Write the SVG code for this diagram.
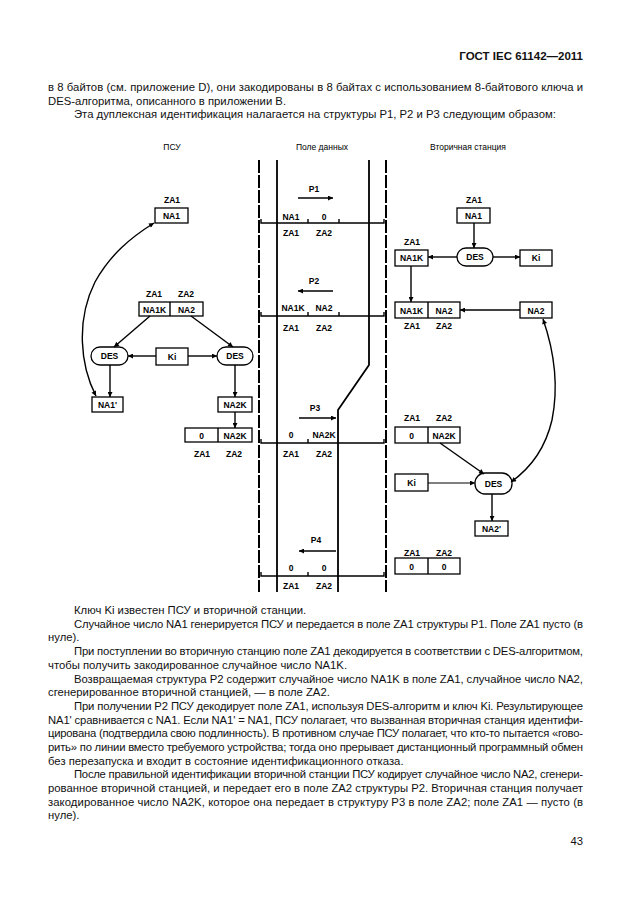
<svg xmlns="http://www.w3.org/2000/svg" width="630" height="913" viewBox="0 0 630 913">
<style>
.body{font-family:"Liberation Sans",Arial,sans-serif;font-size:11.3px;fill:#111}
.hdr{font-family:"Liberation Sans",Arial,sans-serif;font-size:11.5px;font-weight:bold;fill:#111}
.lbl{font-family:"Liberation Sans",Arial,sans-serif;font-size:8.5px;font-weight:bold;fill:#000;text-anchor:middle}
.col{font-family:"Liberation Sans",Arial,sans-serif;font-size:8.5px;fill:#000;text-anchor:middle}
.box{fill:#fff;stroke:#000;stroke-width:1.3}
.ln{fill:none;stroke:#000;stroke-width:1.4}
.thin{fill:none;stroke:#000;stroke-width:1}
.main{fill:none;stroke:#000;stroke-width:1.8}
.dash{fill:none;stroke:#000;stroke-width:2;stroke-dasharray:13 2}
</style>
<defs>
<marker id="ah" viewBox="0 0 10 10" refX="10" refY="5" markerWidth="7" markerHeight="5" markerUnits="userSpaceOnUse" orient="auto-start-reverse">
<path d="M0,0 L10,5 L0,10 z" fill="#000"/>
</marker>
</defs>
<rect x="0" y="0" width="630" height="913" fill="#fff"/>

<g id="page-header">
<text class="hdr" x="583" y="60" text-anchor="end">ГОСТ IEC 61142—2011</text>
<text class="body" x="48" y="91" textLength="535">в 8 байтов (см. приложение D), они закодированы в 8 байтах с использованием 8-байтового ключа и</text>
<text class="body" x="48" y="105">DES-алгоритма, описанного в приложении В.</text>
<text class="body" x="74" y="118">Эта дуплексная идентификация налагается на структуры P1, P2 и P3 следующим образом:</text>
</g>

<g id="column-titles">
<text class="col" x="172" y="150">ПСУ</text>
<text class="col" x="322" y="150">Поле данных</text>
<text class="col" x="468" y="150">Вторичная станция</text>
</g>

<g id="data-field-lines">
<line class="dash" x1="259" y1="160" x2="259" y2="592"/>
<line class="dash" x1="386" y1="160" x2="386" y2="592"/>
<line class="main" x1="277" y1="160" x2="277" y2="592"/>
<path class="main" d="M369,160 V365 L338,410 V592"/>
</g>

<g id="P1">
<text class="lbl" x="314" y="192">P1</text>
<text class="lbl" x="291" y="220">NA1</text>
<text class="lbl" x="324" y="220">0</text>
<path class="ln" d="M261,219 V223 H384 V219 M308,223 V219 M339,223 V219"/>
<text class="lbl" x="291" y="236">ZA1</text>
<text class="lbl" x="324" y="236">ZA2</text>
</g>
<g id="P2">
<text class="lbl" x="314" y="284">P2</text>
<text class="lbl" x="293" y="311">NA1K</text>
<text class="lbl" x="324" y="311">NA2</text>
<path class="ln" d="M261,312 V316 H384 V312 M308,316 V312 M339,316 V312"/>
<text class="lbl" x="291" y="331">ZA1</text>
<text class="lbl" x="324" y="331">ZA2</text>
</g>
<g id="P3">
<text class="lbl" x="315" y="411">P3</text>
<text class="lbl" x="291" y="438">0</text>
<text class="lbl" x="324" y="438">NA2K</text>
<path class="ln" d="M261,439 V443 H384 V439 M308,443 V439"/>
<text class="lbl" x="291" y="457">ZA1</text>
<text class="lbl" x="324" y="457">ZA2</text>
</g>
<g id="P4">
<text class="lbl" x="316" y="543">P4</text>
<text class="lbl" x="291" y="571">0</text>
<text class="lbl" x="324" y="571">0</text>
<path class="ln" d="M261,572 V576 H384 V572 M308,576 V572"/>
<text class="lbl" x="291" y="589">ZA1</text>
<text class="lbl" x="324" y="589">ZA2</text>
</g>

<g id="psu-NA1">
<text class="lbl" x="172" y="203">ZA1</text>
<rect class="box" x="155" y="208" width="33" height="15"/>
<text class="lbl" x="171.5" y="219">NA1</text>
</g>
<g id="psu-NA1K-NA2">
<text class="lbl" x="154" y="297">ZA1</text>
<text class="lbl" x="186" y="297">ZA2</text>
<rect class="box" x="139" y="302" width="64" height="14"/>
<line class="ln" x1="170" y1="302" x2="170" y2="316"/>
<text class="lbl" x="154.5" y="312.5">NA1K</text>
<text class="lbl" x="186.5" y="312.5">NA2</text>
</g>
<g id="psu-DES1">
<rect class="box" x="91" y="347" width="37" height="18" rx="9"/>
<text class="lbl" x="109.5" y="359">DES</text>
</g>
<g id="psu-Ki">
<rect class="box" x="156" y="348" width="32" height="17"/>
<text class="lbl" x="172" y="359.5">Ki</text>
</g>
<g id="psu-DES2">
<rect class="box" x="217" y="347" width="36" height="18" rx="9"/>
<text class="lbl" x="235" y="359">DES</text>
</g>
<g id="psu-NA1p">
<rect class="box" x="92" y="397" width="31" height="15"/>
<text class="lbl" x="107.5" y="408">NA1'</text>
</g>
<g id="psu-NA2K">
<rect class="box" x="218" y="397" width="34" height="15"/>
<text class="lbl" x="235" y="408">NA2K</text>
</g>
<g id="psu-0-NA2K">
<rect class="box" x="185" y="428" width="67" height="14"/>
<line class="ln" x1="218" y1="428" x2="218" y2="442"/>
<text class="lbl" x="201.5" y="438.5">0</text>
<text class="lbl" x="235" y="438.5">NA2K</text>
<text class="lbl" x="202" y="457">ZA1</text>
<text class="lbl" x="234" y="457">ZA2</text>
</g>

<g id="sec-NA1">
<text class="lbl" x="474" y="203">ZA1</text>
<rect class="box" x="457" y="208" width="33" height="15"/>
<text class="lbl" x="473.5" y="219">NA1</text>
</g>
<g id="sec-DES1">
<rect class="box" x="457" y="248" width="36" height="18" rx="9"/>
<text class="lbl" x="475" y="260">DES</text>
</g>
<g id="sec-NA1K">
<text class="lbl" x="412" y="245">ZA1</text>
<rect class="box" x="395" y="250" width="33" height="16"/>
<text class="lbl" x="411.5" y="261">NA1K</text>
</g>
<g id="sec-Ki1">
<rect class="box" x="520" y="250" width="32" height="16"/>
<text class="lbl" x="536" y="261">Ki</text>
</g>
<g id="sec-NA1K-NA2">
<rect class="box" x="395" y="302" width="65" height="16"/>
<line class="ln" x1="428" y1="302" x2="428" y2="318"/>
<text class="lbl" x="411.5" y="313.5">NA1K</text>
<text class="lbl" x="444" y="313.5">NA2</text>
<text class="lbl" x="412" y="329">ZA1</text>
<text class="lbl" x="444" y="329">ZA2</text>
</g>
<g id="sec-NA2">
<rect class="box" x="520" y="302" width="32" height="16"/>
<text class="lbl" x="536" y="313.5">NA2</text>
</g>
<g id="sec-0-NA2K">
<text class="lbl" x="412" y="421">ZA1</text>
<text class="lbl" x="444" y="421">ZA2</text>
<rect class="box" x="395" y="427" width="65" height="16"/>
<line class="ln" x1="428" y1="427" x2="428" y2="443"/>
<text class="lbl" x="411.5" y="438.5">0</text>
<text class="lbl" x="444" y="438.5">NA2K</text>
</g>
<g id="sec-Ki2">
<rect class="box" x="395" y="474" width="33" height="17"/>
<text class="lbl" x="411.5" y="485.5">Ki</text>
</g>
<g id="sec-DES2">
<rect class="box" x="475" y="473" width="37" height="21" rx="10"/>
<text class="lbl" x="493.5" y="486.5">DES</text>
</g>
<g id="sec-NA2p">
<rect class="box" x="475" y="521" width="33" height="15"/>
<text class="lbl" x="491.5" y="532">NA2'</text>
</g>
<g id="sec-0-0">
<text class="lbl" x="412" y="556">ZA1</text>
<text class="lbl" x="444" y="556">ZA2</text>
<rect class="box" x="395" y="558" width="65" height="16"/>
<line class="ln" x1="428" y1="558" x2="428" y2="574"/>
<text class="lbl" x="411.5" y="569.5">0</text>
<text class="lbl" x="444" y="569.5">0</text>
</g>

<g id="connectors">
<line class="ln" x1="298" y1="198" x2="333" y2="198" marker-end="url(#ah)"/>
<line class="ln" x1="333" y1="291" x2="298" y2="291" marker-end="url(#ah)"/>
<line class="ln" x1="299" y1="418" x2="336" y2="418" marker-end="url(#ah)"/>
<line class="ln" x1="336" y1="551" x2="299" y2="551" marker-end="url(#ah)"/>

<path class="ln" d="M96,396 C80,365 76,320 95,282 C110,255 130,238 154,223" marker-start="url(#ah)" marker-end="url(#ah)"/>
<line class="ln" x1="150" y1="316" x2="114" y2="347" marker-end="url(#ah)"/>
<line class="ln" x1="191" y1="316" x2="233" y2="347" marker-end="url(#ah)"/>
<line class="ln" x1="156" y1="356" x2="128" y2="356" marker-end="url(#ah)"/>
<line class="ln" x1="188" y1="356" x2="217" y2="356" marker-end="url(#ah)"/>
<line class="ln" x1="110" y1="365" x2="110" y2="397" marker-end="url(#ah)"/>
<line class="ln" x1="235" y1="365" x2="235" y2="397" marker-end="url(#ah)"/>
<line class="ln" x1="235" y1="412" x2="235" y2="428" marker-end="url(#ah)"/>

<line class="ln" x1="474" y1="223" x2="474" y2="248" marker-end="url(#ah)"/>
<line class="ln" x1="457" y1="257" x2="428" y2="257" marker-end="url(#ah)"/>
<line class="ln" x1="493" y1="257" x2="520" y2="257" marker-end="url(#ah)"/>
<line class="ln" x1="411" y1="266" x2="411" y2="302" marker-end="url(#ah)"/>
<line class="ln" x1="520" y1="310" x2="460" y2="310" marker-end="url(#ah)"/>
<path class="ln" d="M543,319 C552,345 560,380 552,420 C545,450 528,470 511,482" marker-start="url(#ah)" marker-end="url(#ah)"/>
<line class="ln" x1="440" y1="443" x2="484" y2="474" marker-end="url(#ah)"/>
<line class="thin" x1="428" y1="483" x2="475" y2="483" marker-end="url(#ah)"/>
<line class="ln" x1="492" y1="494" x2="492" y2="521" marker-end="url(#ah)"/>
</g>

<g id="page-text">
<text class="body" x="74" y="614">Ключ Ki известен ПСУ и вторичной станции.</text>
<text class="body" x="74" y="628" textLength="509">Случайное число NA1 генерируется ПСУ и передается в поле ZA1 структуры P1. Поле ZA1 пусто (в</text>
<text class="body" x="48" y="641">нуле).</text>
<text class="body" x="74" y="655" textLength="509">При поступлении во вторичную станцию поле ZA1 декодируется в соответствии с DES-алгоритмом,</text>
<text class="body" x="48" y="669">чтобы получить закодированное случайное число NA1K.</text>
<text class="body" x="74" y="683" textLength="509">Возвращаемая структура  P2 содержит случайное число NA1K  в  поле ZA1,  случайное число NA2,</text>
<text class="body" x="48" y="696">сгенерированное  вторичной станцией, — в поле ZA2.</text>
<text class="body" x="74" y="710" textLength="509">При получении P2 ПСУ декодирует поле ZA1,  используя DES-алгоритм и ключ Ki. Результирующее</text>
<text class="body" x="48" y="724" textLength="535">NA1' сравнивается с NA1.  Если  NA1' = NA1,  ПСУ полагает, что  вызванная  вторичная станция идентифи-</text>
<text class="body" x="48" y="737" textLength="535">цирована (подтвердила свою подлинность). В противном случае  ПСУ полагает, что кто-то пытается «гово-</text>
<text class="body" x="48" y="751" textLength="535">рить» по линии  вместо требуемого устройства; тогда  оно прерывает дистанционный программный обмен</text>
<text class="body" x="48" y="765">без  перезапуска и входит в  состояние идентификационного отказа.</text>
<text class="body" x="74" y="778" textLength="509">После  правильной идентификации вторичной станции ПСУ кодирует случайное  число NA2, сгенери-</text>
<text class="body" x="48" y="792" textLength="535">рованное  вторичной  станцией,  и передает его в поле ZA2 структуры P2. Вторичная станция получает</text>
<text class="body" x="48" y="806" textLength="535">закодированное  число  NA2K,  которое  она  передает  в  структуру  P3 в поле ZA2;  поле ZA1 — пусто (в</text>
<text class="body" x="48" y="819">нуле).</text>
<text class="body" x="583" y="845" text-anchor="end">43</text>
</g>
</svg>
